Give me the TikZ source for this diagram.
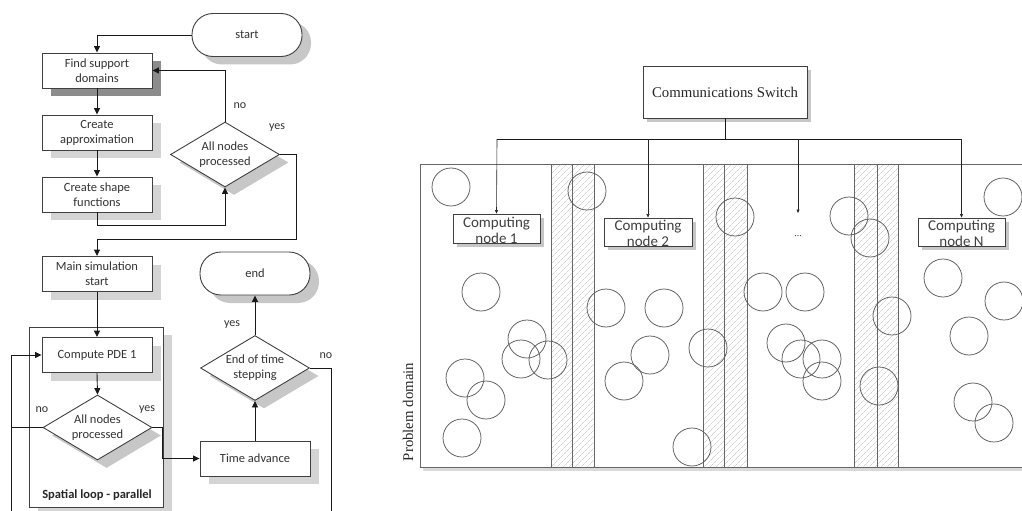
\documentclass[tikz,border=0pt]{standalone}
\usepackage{fontspec}
\setmainfont{Carlito}
\newfontfamily\timesfont{Liberation Serif}
\usetikzlibrary{shapes.geometric,arrows.meta,patterns.meta,calc}

\begin{document}
\begin{tikzpicture}[x=1pt,y=-1pt,line width=0.9pt,
  arr/.style={-{Triangle[length=6.5pt,width=6pt]}, black!90},
  sarr/.style={-{Triangle[length=3.5pt,width=3pt]}, black!85, line width=0.6pt},
  shadowed/.style={preaction={fill=#1,draw=none,transform canvas={xshift=9pt,yshift=-8pt}}},
  shadowed/.default=black!17,
  sshadow/.style={preaction={fill=black!22,draw=none,transform canvas={xshift=4pt,yshift=-4pt}}},
  fc/.style={font=\fontsize{12.5}{15}\selectfont, text=black!80, align=center},
  proc/.style={fc, draw=black!75, fill=white, rectangle, minimum width=110pt,
    minimum height=35pt, inner sep=0pt, shadowed},
  term/.style={fc, draw=black!75, fill=white, rectangle, rounded corners=21pt,
    minimum width=110pt, minimum height=43pt, inner sep=0pt, shadowed=black!22},
  dec/.style={fc, draw=black!75, fill=white, diamond, aspect=1.68, inner sep=0pt,
    minimum width=109pt, minimum height=65pt, shadowed=black!22},
  lbl/.style={font=\fontsize{12}{14}\selectfont, text=black!80, inner sep=0pt},
  cbox/.style={draw=black!75, fill=white, minimum width=87pt, minimum height=29pt,
    inner sep=0pt, sshadow, line width=0.8pt},
  ctext/.style={font=\fontsize{15}{16}\selectfont, text=black!75, align=center, inner sep=0pt},
  strip/.style={draw=black!60, line width=0.7pt},
  circ/.style={draw=black!65, line width=0.75pt}
]
\useasboundingbox (0,0) rectangle (1022,511);

% ---------------- flowchart ----------------
\node[term] (start) at (247,35) {start};
\node[proc, shadowed=black!45] (find) at (97,70.5) {Find support\\domains};
\node[proc] (approx) at (97,132.5) {Create\\approximation};
\node[proc] (shape) at (97,194.5) {Create shape\\functions};
\node[dec] (dia1) at (225,154.5) {All nodes\\processed};
\node[proc] (main) at (97,274) {Main simulation\\start};
\node[term] (endn) at (255,273.5) {end};

% parallel spatial loop
\node[draw=black!75, fill=white, minimum width=134pt, minimum height=180pt,
      inner sep=0pt, shadowed] (loop) at (96,417) {};
\node[fc, font=\fontsize{12.5}{15}\selectfont\bfseries, text=black!85] (looplbl) at (97,495) {Spatial loop - parallel};
\node[proc] (compute) at (97,355) {Compute PDE 1};
\node[dec] (dia2) at (97.5,427.5) {All nodes\\processed};
\node[proc] (tadv) at (255,458.5) {Time advance};
\node[dec] (dia3) at (255,368) {End of time\\stepping};

% branch labels
\node[lbl] (no1) at (240,106) {no};
\node[lbl] (yes1) at (277,128) {yes};
\node[lbl] (no2) at (42,410) {no};
\node[lbl] (yes2) at (147,410) {yes};
\node[lbl] (yes3) at (232,325) {yes};
\node[lbl] (no3) at (326,356) {no};

\coordinate (j1) at (296,239);
\coordinate (j2) at (162,458.5);
\coordinate (lb) at (11,511);
\coordinate (rb) at (331,511);

\draw[arr] (start.west) -| (find.north);
\draw[arr] (find.south) -- (approx.north);
\draw[arr] (approx.south) -- (shape.north);
\draw[arr] (shape.south) -- ++(0,13) -| (dia1.south);
\draw[arr] (dia1.north) |- (find.east);
\draw[arr] (dia1.east) -| (j1) -| (main.north);
\draw[arr] (main.south) -- (compute.north);
\draw[arr] (compute.south) -- (dia2.north);
\draw[black!90] (dia2.west) -- (dia2.west -| lb);
\draw[arr] (lb) |- (compute.west);
\draw[arr] (dia2.east) -| (j2) -- (tadv.west);
\draw[arr] (tadv.north) -- (dia3.south);
\draw[arr] (dia3.north) -- (endn.south);
\draw[black!90] (dia3.east) -| (rb);

% ---------------- cluster over the problem domain ----------------
\node[draw=black!75, fill=white, minimum width=164pt, minimum height=52pt, inner sep=0pt,
      sshadow, line width=0.8pt, font=\timesfont\fontsize{14.8}{17}\selectfont, text=black!85] (sw) at (725,92) {Communications Switch};

% problem domain
\fill[black!15] (423,467.5) rectangle (1022,471);
\draw[black!60, line width=0.9pt] (1022,164) -- (420,164) -- (420,467) -- (1022,467);
\node[font=\timesfont\fontsize{14.8}{17}\selectfont, text=black!85, rotate=90, inner sep=0pt] (pd) at (408,412) {Problem domain};

% overlap strips shared by neighbouring nodes
\foreach \a/\m/\b in {551/572/594, 703/724/747, 854/877/898}{
  \fill[pattern={Lines[angle=45,distance=4pt,line width=0.45pt]}, pattern color=black!27] (\a,164) rectangle (\b,467);
  \draw[strip] (\a,164) rectangle (\m,467);
  \draw[strip] (\m,164) rectangle (\b,467);
}

% field nodes
\foreach \cx/\cy in {451/187, 587/191, 735/217, 849/216, 870/238, 1003/197,
  481/292, 527/339, 521/359, 548/360, 465/378, 486/400, 462/438,
  606/308, 664/308, 650/355, 624/381, 692/447, 708/348,
  763/292, 805/292, 786/343, 801/359, 822/359, 822/381,
  892/316, 879/386, 943/278, 1004/301, 969/336, 973/402, 994/423}{
  \draw[circ] (\cx,\cy) circle[radius=19];
}

% computing nodes
\node[cbox] (cn1) at (496.5,228.5) {};
\node[ctext] (cn1t) at ($(cn1.center)+(0,1.5)$) {Computing\\node 1};
\node[cbox, minimum width=88pt, minimum height=28pt] (cn2) at (648,232) {};
\node[ctext] (cn2t) at ($(cn2.center)+(0,1.5)$) {Computing\\node 2};
\node[cbox, minimum height=28pt] (cnN) at (961.5,232) {};
\node[ctext] (cnNt) at ($(cnN.center)+(0,1.5)$) {Computing\\node N};
\coordinate (more) at (798,213);
\node[font=\timesfont\fontsize{10}{12}\selectfont, text=black!80, inner sep=0pt] (dots) at (798,236) {...};

% switch bus
\coordinate (busL) at (497,139);
\coordinate (busR) at (962,139);
\draw[black!90] (sw.south) -- (sw.south |- busL);
\draw[black!90] (busL) -- (busR);
\draw[sarr] (busL) -- (cn1.north);
\draw[sarr] (cn2.north |- busL) -- (cn2.north);
\draw[sarr] (more |- busL) -- (more);
\draw[sarr] (cnN.north |- busL) -- (cnN.north);
\end{tikzpicture}
\end{document}
